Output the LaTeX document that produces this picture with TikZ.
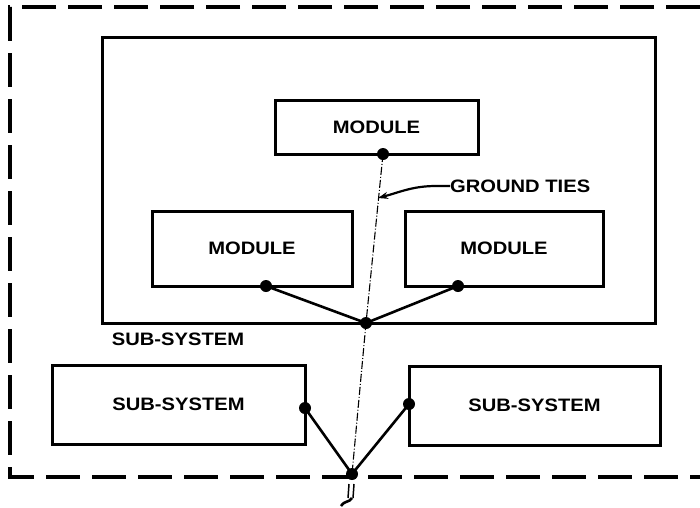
\documentclass[tikz,border=0pt]{standalone}
\usepackage{fontspec}
\newfontfamily\lblfont[FakeStretch=1.12]{Liberation Sans}
\usetikzlibrary{arrows.meta}
\tikzset{
  txt/.style={font=\lblfont\bfseries\fontsize{18}{21}\selectfont},
  box/.style={draw, line width=3pt, inner sep=0pt, txt},
  lbl/.style={inner sep=0pt, txt},
  tie/.style={line width=2.6pt},
  gnd/.style={line width=1.1pt, dash pattern=on 8pt off 2pt on 1pt off 2pt},
  dot/.style={circle, fill, inner sep=0pt, minimum size=12pt},
  frame/.style={line width=3.6pt, dash pattern=on 34pt off 12pt},
}
\begin{document}
\begin{tikzpicture}[x=1pt, y=-1pt]
    \useasboundingbox (0,0) rectangle (700,507);
    % outer frame
    \draw[frame] (700,7) -- (10,7) -- (10,477) -- (700,477);
    % sub-system with its modules
    \node[box, minimum width=553pt, minimum height=286pt] (subsys) at (378.5,180) {};
    \node[lbl] (subsyslbl) at (178,339) {SUB-SYSTEM};
    \node[box, minimum width=203pt, minimum height=54pt] (modtop) at (376.5,127) {MODULE};
    \node[box, minimum width=200pt, minimum height=75pt] (modleft) at (252,248.5) {MODULE};
    \node[box, minimum width=198pt, minimum height=75pt] (modright) at (504,248.5) {MODULE};
    % other sub-systems
    \node[box, minimum width=253pt, minimum height=79pt] (ssleft) at (178.5,404.5) {SUB-SYSTEM};
    \node[box, minimum width=251pt, minimum height=79pt] (ssright) at (534.5,405.5) {SUB-SYSTEM};
    % tie points
    \node[dot] (dtop) at (383,154) {};
    \node[dot] (dleft) at (266,286) {};
    \node[dot] (dright) at (458,286) {};
    \node[dot] (dsub) at (366,323) {};
    \node[dot] (dssl) at (305,408) {};
    \node[dot] (dssr) at (409,404) {};
    \node[dot] (dgnd) at (352,474) {};
    \draw[tie] (dleft.center) -- (dsub.center) -- (dright.center);
    \draw[tie] (dssl.center) -- (dgnd.center) -- (dssr.center);
    \draw[gnd] (dtop.center) -- (dsub.center) -- (dgnd.center);
    % ground
    \coordinate (gndend) at (352,498);
    \draw[line width=1.5pt] (dgnd.center) ++(-3,10) -- ++(-1,14);
    \draw[line width=1.5pt] (dgnd.center) ++(2,10) -- ++(-1,14);
    \draw[line width=2.6pt] (341,506) .. controls (345,500) and (349,503) .. (gndend);
    % label
    \node[lbl, anchor=west] (gtlbl) at (450,186) {GROUND TIES};
    \coordinate (gttip) at (378,198);
    \draw[line width=2.2pt, -{Stealth[length=10pt,width=7pt]}] (gtlbl.west) -- ++(-14,0) to[out=180, in=15] (gttip);
\end{tikzpicture}
\end{document}
